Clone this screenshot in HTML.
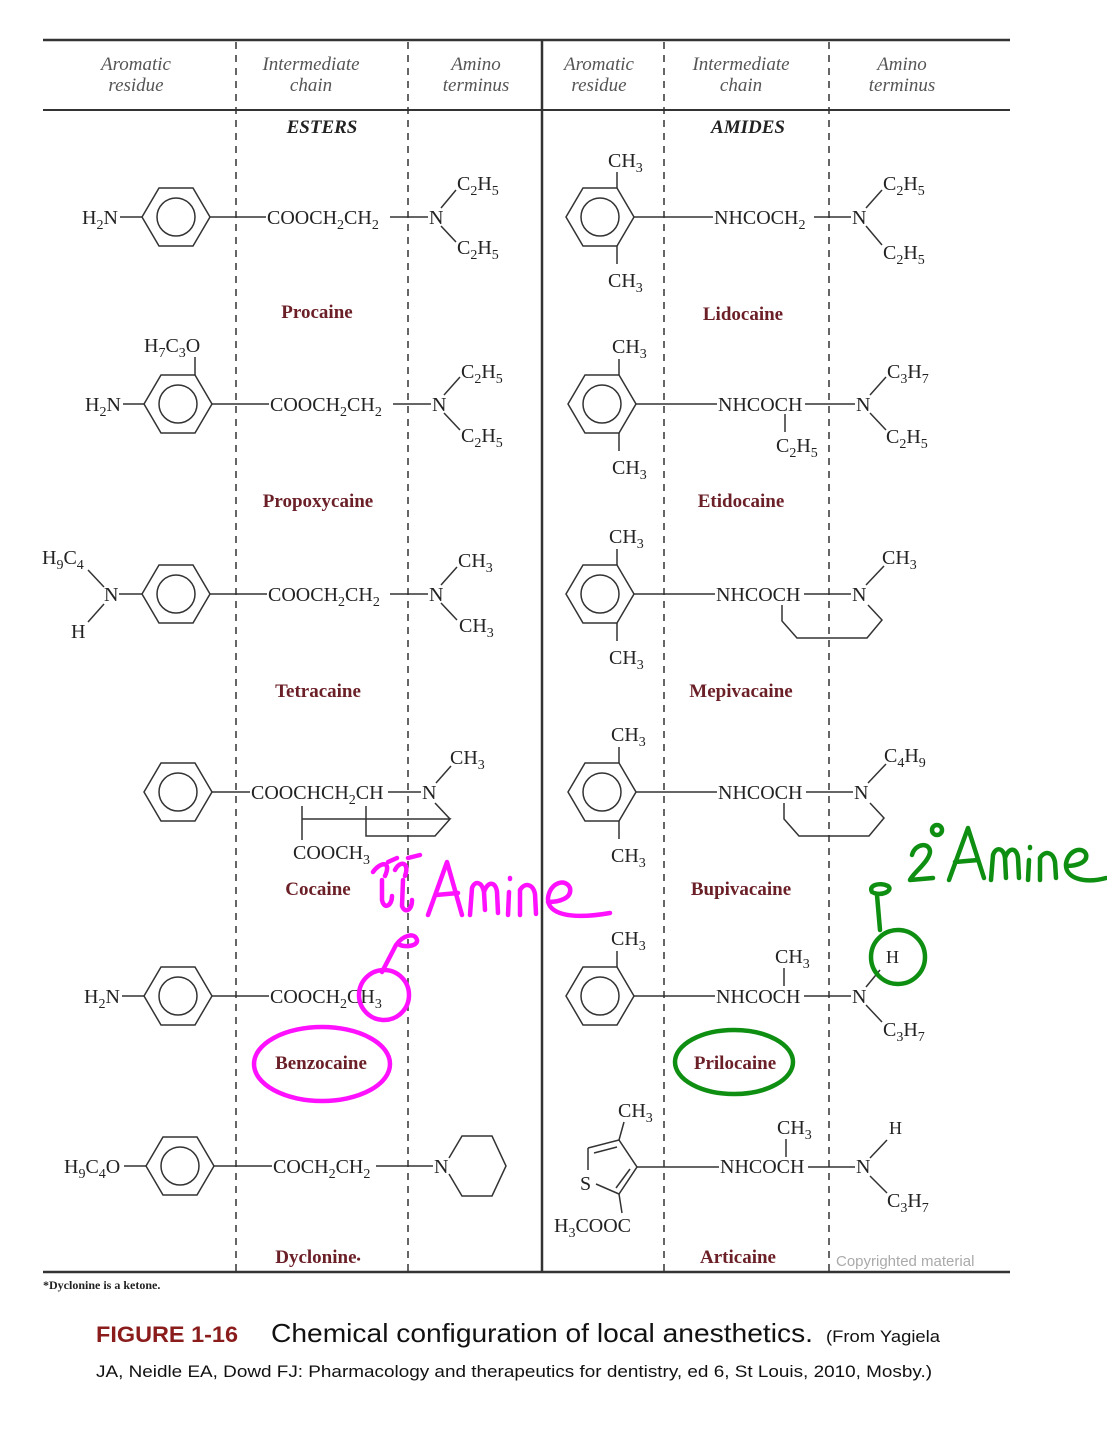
<!DOCTYPE html>
<html><head><meta charset="utf-8"><style>
html,body{margin:0;padding:0;background:#fff;}
svg{display:block;}
.t{font-family:"Liberation Serif",serif;font-size:20px;fill:#222;}
.h{font-family:"Liberation Serif",serif;font-size:19px;font-style:italic;fill:#555;text-anchor:middle;}
.nm{font-family:"Liberation Serif",serif;font-size:19px;font-weight:bold;fill:#6b1f27;text-anchor:middle;}
.b{stroke:#333;stroke-width:1.5;fill:none;}
.d{stroke:#333;stroke-width:1.5;stroke-dasharray:7,6;fill:none;}
</style></head><body>
<svg width="1107" height="1448" viewBox="0 0 1107 1448" xmlns="http://www.w3.org/2000/svg">
<defs>
<g id="bz"><polygon class="b" points="-34,0 -17,-29 17,-29 34,0 17,29 -17,29"/><circle class="b" r="19"/></g>
</defs>
<!-- frame -->
<line x1="43" y1="40" x2="1010" y2="40" stroke="#333" stroke-width="2.5"/>
<line x1="43" y1="110" x2="1010" y2="110" stroke="#333" stroke-width="2"/>
<line x1="43" y1="1272" x2="1010" y2="1272" stroke="#333" stroke-width="2.5"/>
<line x1="542" y1="40" x2="542" y2="1272" stroke="#333" stroke-width="2.5"/>
<line class="d" x1="236" y1="42" x2="236" y2="1272"/>
<line class="d" x1="408" y1="42" x2="408" y2="1272"/>
<line class="d" x1="664" y1="42" x2="664" y2="1272"/>
<line class="d" x1="829" y1="42" x2="829" y2="1272"/>
<!-- headers -->
<text class="h" x="136" y="70">Aromatic</text><text class="h" x="136" y="91">residue</text>
<text class="h" x="311" y="70">Intermediate</text><text class="h" x="311" y="91">chain</text>
<text class="h" x="476" y="70">Amino</text><text class="h" x="476" y="91">terminus</text>
<text class="h" x="599" y="70">Aromatic</text><text class="h" x="599" y="91">residue</text>
<text class="h" x="741" y="70">Intermediate</text><text class="h" x="741" y="91">chain</text>
<text class="h" x="902" y="70">Amino</text><text class="h" x="902" y="91">terminus</text>
<text class="h" x="322" y="133" style="font-weight:bold;fill:#222">ESTERS</text>
<text class="h" x="748" y="133" style="font-weight:bold;fill:#222">AMIDES</text>

<!-- Procaine -->
<text class="t" x="82" y="224">H<tspan dy="5" font-size="14">2</tspan><tspan dy="-5">N</tspan></text>
<line class="b" x1="120" y1="217" x2="142" y2="217"/>
<use href="#bz" x="176" y="217"/>
<line class="b" x1="210" y1="217" x2="266" y2="217"/>
<text class="t" x="267" y="224">COOCH<tspan dy="5" font-size="14">2</tspan><tspan dy="-5">CH</tspan><tspan dy="5" font-size="14">2</tspan></text>
<line class="b" x1="390" y1="217" x2="428" y2="217"/>
<text class="t" x="429" y="224">N</text>
<line class="b" x1="441" y1="208" x2="456" y2="190"/><line class="b" x1="441" y1="226" x2="456" y2="242"/>
<text class="t" x="457" y="190">C<tspan dy="5" font-size="14">2</tspan><tspan dy="-5">H</tspan><tspan dy="5" font-size="14">5</tspan></text>
<text class="t" x="457" y="254">C<tspan dy="5" font-size="14">2</tspan><tspan dy="-5">H</tspan><tspan dy="5" font-size="14">5</tspan></text>
<text class="nm" x="317" y="318">Procaine</text>

<!-- Propoxycaine -->
<text class="t" x="144" y="352">H<tspan dy="5" font-size="14">7</tspan><tspan dy="-5">C</tspan><tspan dy="5" font-size="14">3</tspan><tspan dy="-5">O</tspan></text>
<line class="b" x1="195" y1="375" x2="195" y2="357"/>
<text class="t" x="85" y="411">H<tspan dy="5" font-size="14">2</tspan><tspan dy="-5">N</tspan></text>
<line class="b" x1="123" y1="404" x2="144" y2="404"/>
<use href="#bz" x="178" y="404"/>
<line class="b" x1="212" y1="404" x2="269" y2="404"/>
<text class="t" x="270" y="411">COOCH<tspan dy="5" font-size="14">2</tspan><tspan dy="-5">CH</tspan><tspan dy="5" font-size="14">2</tspan></text>
<line class="b" x1="393" y1="404" x2="431" y2="404"/>
<text class="t" x="432" y="411">N</text>
<line class="b" x1="444" y1="395" x2="460" y2="377"/><line class="b" x1="444" y1="413" x2="460" y2="430"/>
<text class="t" x="461" y="378">C<tspan dy="5" font-size="14">2</tspan><tspan dy="-5">H</tspan><tspan dy="5" font-size="14">5</tspan></text>
<text class="t" x="461" y="442">C<tspan dy="5" font-size="14">2</tspan><tspan dy="-5">H</tspan><tspan dy="5" font-size="14">5</tspan></text>
<text class="nm" x="318" y="507">Propoxycaine</text>

<!-- Tetracaine -->
<text class="t" x="42" y="564">H<tspan dy="5" font-size="14">9</tspan><tspan dy="-5">C</tspan><tspan dy="5" font-size="14">4</tspan></text>
<line class="b" x1="88" y1="570" x2="104" y2="587"/>
<text class="t" x="104" y="601">N</text>
<line class="b" x1="104" y1="604" x2="88" y2="622"/>
<text class="t" x="71" y="638">H</text>
<line class="b" x1="119" y1="594" x2="142" y2="594"/>
<use href="#bz" x="176" y="594"/>
<line class="b" x1="210" y1="594" x2="267" y2="594"/>
<text class="t" x="268" y="601">COOCH<tspan dy="5" font-size="14">2</tspan><tspan dy="-5">CH</tspan><tspan dy="5" font-size="14">2</tspan></text>
<line class="b" x1="390" y1="594" x2="428" y2="594"/>
<text class="t" x="429" y="601">N</text>
<line class="b" x1="441" y1="585" x2="457" y2="567"/><line class="b" x1="441" y1="603" x2="457" y2="620"/>
<text class="t" x="458" y="567">CH<tspan dy="5" font-size="14">3</tspan></text>
<text class="t" x="459" y="632">CH<tspan dy="5" font-size="14">3</tspan></text>
<text class="nm" x="318" y="697">Tetracaine</text>

<!-- Cocaine -->
<use href="#bz" x="178" y="792"/>
<line class="b" x1="212" y1="792" x2="250" y2="792"/>
<text class="t" x="251" y="799">COOCHCH<tspan dy="5" font-size="14">2</tspan><tspan dy="-5">CH</tspan></text>
<line class="b" x1="388" y1="792" x2="421" y2="792"/>
<text class="t" x="422" y="799">N</text>
<line class="b" x1="436" y1="783" x2="451" y2="766"/>
<text class="t" x="450" y="764">CH<tspan dy="5" font-size="14">3</tspan></text>
<polyline class="b" points="302,806 302,840"/>
<polyline class="b" points="302,819 450,819 435,836 366,836 366,806"/>
<line class="b" x1="435" y1="803" x2="450" y2="819"/>
<text class="t" x="293" y="859">COOCH<tspan dy="5" font-size="14">3</tspan></text>
<text class="nm" x="318" y="895">Cocaine</text>

<!-- Benzocaine -->
<text class="t" x="84" y="1003">H<tspan dy="5" font-size="14">2</tspan><tspan dy="-5">N</tspan></text>
<line class="b" x1="122" y1="996" x2="144" y2="996"/>
<use href="#bz" x="178" y="996"/>
<line class="b" x1="212" y1="996" x2="269" y2="996"/>
<text class="t" x="270" y="1003">COOCH<tspan dy="5" font-size="14">2</tspan><tspan dy="-5">CH</tspan><tspan dy="5" font-size="14">3</tspan></text>
<text class="nm" x="321" y="1069">Benzocaine</text>

<!-- Dyclonine -->
<text class="t" x="64" y="1173">H<tspan dy="5" font-size="14">9</tspan><tspan dy="-5">C</tspan><tspan dy="5" font-size="14">4</tspan><tspan dy="-5">O</tspan></text>
<line class="b" x1="124" y1="1166" x2="146" y2="1166"/>
<use href="#bz" x="180" y="1166"/>
<line class="b" x1="214" y1="1166" x2="272" y2="1166"/>
<text class="t" x="273" y="1173">COCH<tspan dy="5" font-size="14">2</tspan><tspan dy="-5">CH</tspan><tspan dy="5" font-size="14">2</tspan></text>
<line class="b" x1="376" y1="1166" x2="433" y2="1166"/>
<text class="t" x="434" y="1173">N</text>
<polyline class="b" points="449,1158 462,1136 492,1136 506,1166 492,1196 462,1196 449,1174"/>
<text class="nm" x="318" y="1263">Dyclonine<tspan font-size="12">•</tspan></text>
<text x="43" y="1289" style="font-family:'Liberation Serif',serif;font-size:12px;font-weight:bold;fill:#222">*Dyclonine is a ketone.</text>

<!-- Lidocaine -->
<text class="t" x="608" y="167">CH<tspan dy="5" font-size="14">3</tspan></text>
<line class="b" x1="617" y1="188" x2="617" y2="172"/>
<use href="#bz" x="600" y="217"/>
<line class="b" x1="617" y1="246" x2="617" y2="264"/>
<text class="t" x="608" y="287">CH<tspan dy="5" font-size="14">3</tspan></text>
<line class="b" x1="634" y1="217" x2="713" y2="217"/>
<text class="t" x="714" y="224">NHCOCH<tspan dy="5" font-size="14">2</tspan></text>
<line class="b" x1="814" y1="217" x2="851" y2="217"/>
<text class="t" x="852" y="224">N</text>
<line class="b" x1="866" y1="208" x2="882" y2="190"/><line class="b" x1="866" y1="226" x2="882" y2="245"/>
<text class="t" x="883" y="190">C<tspan dy="5" font-size="14">2</tspan><tspan dy="-5">H</tspan><tspan dy="5" font-size="14">5</tspan></text>
<text class="t" x="883" y="259">C<tspan dy="5" font-size="14">2</tspan><tspan dy="-5">H</tspan><tspan dy="5" font-size="14">5</tspan></text>
<text class="nm" x="743" y="320">Lidocaine</text>

<!-- Etidocaine -->
<text class="t" x="612" y="353">CH<tspan dy="5" font-size="14">3</tspan></text>
<line class="b" x1="619" y1="375" x2="619" y2="359"/>
<use href="#bz" x="602" y="404"/>
<line class="b" x1="619" y1="433" x2="619" y2="451"/>
<text class="t" x="612" y="474">CH<tspan dy="5" font-size="14">3</tspan></text>
<line class="b" x1="636" y1="404" x2="717" y2="404"/>
<text class="t" x="718" y="411">NHCOCH</text>
<line class="b" x1="785" y1="414" x2="785" y2="432"/>
<text class="t" x="776" y="452">C<tspan dy="5" font-size="14">2</tspan><tspan dy="-5">H</tspan><tspan dy="5" font-size="14">5</tspan></text>
<line class="b" x1="805" y1="404" x2="855" y2="404"/>
<text class="t" x="856" y="411">N</text>
<line class="b" x1="870" y1="395" x2="886" y2="377"/><line class="b" x1="870" y1="413" x2="886" y2="430"/>
<text class="t" x="887" y="378">C<tspan dy="5" font-size="14">3</tspan><tspan dy="-5">H</tspan><tspan dy="5" font-size="14">7</tspan></text>
<text class="t" x="886" y="443">C<tspan dy="5" font-size="14">2</tspan><tspan dy="-5">H</tspan><tspan dy="5" font-size="14">5</tspan></text>
<text class="nm" x="741" y="507">Etidocaine</text>

<!-- Mepivacaine -->
<text class="t" x="609" y="543">CH<tspan dy="5" font-size="14">3</tspan></text>
<line class="b" x1="617" y1="565" x2="617" y2="549"/>
<use href="#bz" x="600" y="594"/>
<line class="b" x1="617" y1="623" x2="617" y2="641"/>
<text class="t" x="609" y="664">CH<tspan dy="5" font-size="14">3</tspan></text>
<line class="b" x1="634" y1="594" x2="715" y2="594"/>
<text class="t" x="716" y="601">NHCOCH</text>
<line class="b" x1="804" y1="594" x2="851" y2="594"/>
<text class="t" x="852" y="601">N</text>
<line class="b" x1="866" y1="585" x2="884" y2="566"/>
<text class="t" x="882" y="564">CH<tspan dy="5" font-size="14">3</tspan></text>
<polyline class="b" points="782,605 782,621 797,638 867,638 882,620 868,605"/>
<text class="nm" x="741" y="697">Mepivacaine</text>

<!-- Bupivacaine -->
<text class="t" x="611" y="741">CH<tspan dy="5" font-size="14">3</tspan></text>
<line class="b" x1="619" y1="763" x2="619" y2="747"/>
<use href="#bz" x="602" y="792"/>
<line class="b" x1="619" y1="821" x2="619" y2="839"/>
<text class="t" x="611" y="862">CH<tspan dy="5" font-size="14">3</tspan></text>
<line class="b" x1="636" y1="792" x2="717" y2="792"/>
<text class="t" x="718" y="799">NHCOCH</text>
<line class="b" x1="806" y1="792" x2="853" y2="792"/>
<text class="t" x="854" y="799">N</text>
<line class="b" x1="868" y1="783" x2="886" y2="764"/>
<text class="t" x="884" y="762">C<tspan dy="5" font-size="14">4</tspan><tspan dy="-5">H</tspan><tspan dy="5" font-size="14">9</tspan></text>
<polyline class="b" points="784,803 784,819 799,836 869,836 884,818 870,803"/>
<text class="nm" x="741" y="895">Bupivacaine</text>

<!-- Prilocaine -->
<text class="t" x="611" y="945">CH<tspan dy="5" font-size="14">3</tspan></text>
<line class="b" x1="617" y1="967" x2="617" y2="951"/>
<use href="#bz" x="600" y="996"/>
<line class="b" x1="634" y1="996" x2="715" y2="996"/>
<text class="t" x="716" y="1003">NHCOCH</text>
<line class="b" x1="784" y1="986" x2="784" y2="968"/>
<text class="t" x="775" y="963">CH<tspan dy="5" font-size="14">3</tspan></text>
<line class="b" x1="804" y1="996" x2="851" y2="996"/>
<text class="t" x="852" y="1003">N</text>
<line class="b" x1="866" y1="987" x2="880" y2="970"/><line class="b" x1="866" y1="1005" x2="882" y2="1022"/>
<text class="t" x="886" y="963" style="font-size:18px">H</text>
<text class="t" x="883" y="1036">C<tspan dy="5" font-size="14">3</tspan><tspan dy="-5">H</tspan><tspan dy="5" font-size="14">7</tspan></text>
<text class="nm" x="735" y="1069">Prilocaine</text>

<!-- Articaine -->
<text class="t" x="618" y="1117">CH<tspan dy="5" font-size="14">3</tspan></text>
<line class="b" x1="619" y1="1140" x2="624" y2="1122"/>
<polyline class="b" points="588,1148 619,1140 637,1167 619,1194 596,1184"/>
<line class="b" x1="588" y1="1148" x2="588" y2="1170"/>
<line class="b" x1="594" y1="1153" x2="617" y2="1147"/>
<line class="b" x1="630" y1="1169" x2="616" y2="1188"/>
<text class="t" x="580" y="1190">S</text>
<line class="b" x1="619" y1="1194" x2="622" y2="1213"/>
<text class="t" x="554" y="1232">H<tspan dy="5" font-size="14">3</tspan><tspan dy="-5">COOC</tspan></text>
<line class="b" x1="637" y1="1167" x2="719" y2="1167"/>
<text class="t" x="720" y="1173">NHCOCH</text>
<line class="b" x1="786" y1="1157" x2="786" y2="1139"/>
<text class="t" x="777" y="1134">CH<tspan dy="5" font-size="14">3</tspan></text>
<line class="b" x1="808" y1="1167" x2="855" y2="1167"/>
<text class="t" x="856" y="1173">N</text>
<line class="b" x1="870" y1="1158" x2="887" y2="1140"/><line class="b" x1="870" y1="1176" x2="887" y2="1193"/>
<text class="t" x="889" y="1134" style="font-size:18px">H</text>
<text class="t" x="887" y="1207">C<tspan dy="5" font-size="14">3</tspan><tspan dy="-5">H</tspan><tspan dy="5" font-size="14">7</tspan></text>
<text class="nm" x="738" y="1263">Articaine</text>
<text x="836" y="1266" style="font-family:'Liberation Sans',sans-serif;font-size:15px;fill:#aaa">Copyrighted material</text>

<!-- magenta annotations -->
<g stroke="#ff10ff" stroke-width="4.5" fill="none" stroke-linecap="round" stroke-linejoin="round">
<ellipse cx="322" cy="1064" rx="68" ry="37"/>
<circle cx="384" cy="995" r="25"/>
<path d="M382,972 L396,945 M396,945 C403,935 415,932 417,940 C418,946 405,948 398,944"/>
<path d="M373,872 C380,862 392,860 385,876 M382,880 L382,900 C384,910 392,906 392,896 M395,870 C400,860 410,862 405,876 M403,880 L402,906 C405,914 412,910 412,900 M388,862 L397,858 M408,858 L420,855"/>
<path d="M428,915 L447,862 L462,915 M436,895 L458,893"/>
<path d="M470,915 L472,888 C475,880 482,882 484,892 L485,910 M484,892 C488,880 496,882 497,892 L498,913"/>
<path d="M508,915 L509,892 M510,878 L510,879"/>
<path d="M520,915 L520,890 C525,882 533,884 535,894 L536,914"/>
<path d="M548,902 C560,902 572,898 570,888 C566,878 550,882 548,898 C547,914 570,920 610,913"/>
</g>
<!-- green annotations -->
<g stroke="#0e8f12" stroke-width="4.5" fill="none" stroke-linecap="round" stroke-linejoin="round">
<ellipse cx="734" cy="1062" rx="59" ry="32"/>
<circle cx="898" cy="957" r="27"/>
<path d="M880,930 L877,895 M872,892 C868,885 880,882 888,886 C893,890 884,896 874,893"/>
<path d="M912,855 C915,843 930,842 930,852 C929,862 912,874 910,880 L933,878"/>
<circle cx="937" cy="830" r="5"/>
<path d="M949,880 L968,828 L984,878 M955,862 L978,860"/>
<path d="M991,880 L993,855 C996,846 1004,848 1005,858 L1006,878 M1005,858 C1009,846 1017,848 1018,858 L1019,878"/>
<path d="M1028,880 L1029,860 M1030,847 L1030,848"/>
<path d="M1040,880 L1040,858 C1045,850 1053,852 1055,862 L1056,878"/>
<path d="M1066,866 C1078,866 1088,862 1086,854 C1082,846 1068,850 1066,864 C1065,878 1084,884 1106,878"/>
</g>

<!-- caption -->
<text x="96" y="1342" textLength="142" lengthAdjust="spacingAndGlyphs" style="font-family:'Liberation Sans',sans-serif;font-size:22px;font-weight:bold;fill:#8b1c1c">FIGURE 1-16</text>
<text x="271" y="1342" textLength="542" lengthAdjust="spacingAndGlyphs" style="font-family:'Liberation Sans',sans-serif;font-size:26px;fill:#111">Chemical configuration of local anesthetics.</text>
<text x="826" y="1342" textLength="114" lengthAdjust="spacingAndGlyphs" style="font-family:'Liberation Sans',sans-serif;font-size:17px;fill:#111">(From Yagiela</text>
<text x="96" y="1377" textLength="836" lengthAdjust="spacingAndGlyphs" style="font-family:'Liberation Sans',sans-serif;font-size:17px;fill:#111">JA, Neidle EA, Dowd FJ: Pharmacology and therapeutics for dentistry, ed 6, St Louis, 2010, Mosby.)</text>
</svg>
</body></html>
